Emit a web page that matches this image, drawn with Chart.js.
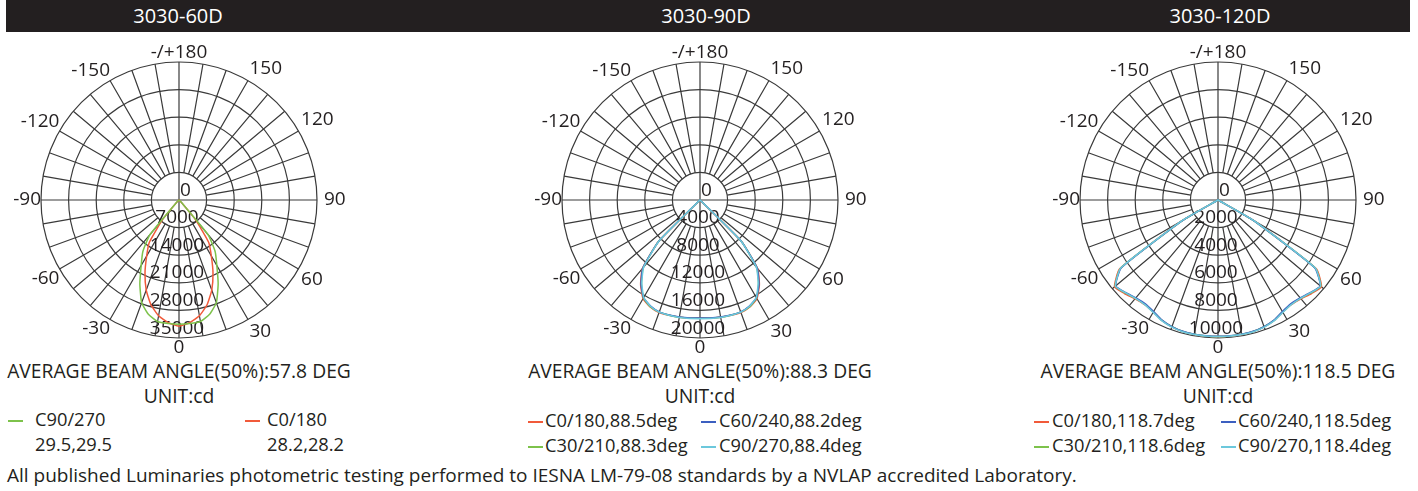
<!DOCTYPE html>
<html>
<head>
<meta charset="utf-8">
<script src="https://cdn.jsdelivr.net/npm/chart.js@4.4.0/dist/chart.umd.min.js"></script>
<style>
  body { margin: 0; width: 1418px; height: 491px; background: #fff; position: relative; overflow: hidden;
         font-family: 'Open Sans', sans-serif; color: #231f20; }
  #bar { position: absolute; left: 6px; top: 0; width: 1404px; height: 32px; background: #231f20; }
  .title { position: absolute; top: 0; line-height: 32px; color: #fff; font-size: 20px; transform: translateX(-50%); white-space: nowrap; }
  .polar { position: absolute; top: 43px; }
  .center { position: absolute; transform: translateX(-50%); white-space: nowrap; font-size: 19.3px; line-height: 24px; }
  .item { position: absolute; white-space: nowrap; font-size: 18.3px; line-height: 24px; }
  .dash { position: absolute; height: 2px; width: 15px; }
  #footer { position: absolute; left: 7px; top: 463px; font-size: 19px; line-height: 24px; white-space: nowrap; }
</style>
</head>
<body>
<div id="bar"></div>
<div id="footer">All published Luminaries photometric testing performed to IESNA LM-79-08 standards by a NVLAP accredited Laboratory.</div>

<script>
'use strict';

// angle categories, clockwise from the top of the diagram
let angleLabels = [180, 175, 170, 165, 160, 155, 150, 145, 140, 135, 130, 125, 120, 115, 110, 105, 100, 95,
  90, 85, 80, 75, 70, 65, 60, 55, 50, 45, 40, 35, 30, 25, 20, 15, 10, 5,
  0, -5, -10, -15, -20, -25, -30, -35, -40, -45, -50, -55, -60, -65, -70, -75, -80, -85,
  -90, -95, -100, -105, -110, -115, -120, -125, -130, -135, -140, -145, -150, -155, -160, -165, -170, -175];
let angleTickLabels = ['-/+180', '150', '120', '90', '60', '30', '0', '-30', '-60', '-90', '-120', '-150'];

// gamma angles the intensities are read at (curves meet the centre beyond these)
let gammaAngles = [0, 5, 10, 15, 20, 25, 30, 35, 40, 45, 50, 55, 60, 65, 70, 75, 80, 85, 90];

// 3030-60D (cd)
let c90_60D = [31500, 31450, 31300, 30000, 27700, 23500, 19200, 16000, 11500, 1000, 0, 0, 0, 0, 0, 0, 0, 0, 0];
let c0_60D = [32000, 31200, 29800, 27500, 24300, 20400, 16400, 13100, 6500, 800, 0, 0, 0, 0, 0, 0, 0, 0, 0];

// 3030-90D (cd)
let c0_90D = [17150, 17200, 17250, 17300, 17350, 17100, 16500, 15000, 13000, 8500, 0, 0, 0, 0, 0, 0, 0, 0, 0];
let c30_90D = [17150, 17200, 17250, 17280, 17300, 17050, 16400, 14800, 12800, 8450, 0, 0, 0, 0, 0, 0, 0, 0, 0];
let c60_90D = [17100, 17150, 17200, 17250, 17250, 16950, 16350, 14900, 12900, 8450, 0, 0, 0, 0, 0, 0, 0, 0, 0];
let c90_90D = [17200, 17250, 17300, 17300, 17300, 17000, 16300, 14700, 12700, 8400, 0, 0, 0, 0, 0, 0, 0, 0, 0];

// 3030-120D (cd)
let c0_120D = [9900, 9900, 9890, 9870, 9780, 9630, 9380, 9260, 9350, 9580, 9780, 8700, 3000, 0, 0, 0, 0, 0, 0];
let c30_120D = [9890, 9890, 9880, 9860, 9770, 9620, 9360, 9230, 9300, 9520, 9720, 8620, 2980, 0, 0, 0, 0, 0, 0];
let c60_120D = [9880, 9880, 9870, 9850, 9760, 9600, 9330, 9180, 9250, 9480, 9680, 8550, 2950, 0, 0, 0, 0, 0, 0];
let c90_120D = [9900, 9900, 9900, 9880, 9800, 9650, 9400, 9250, 9300, 9500, 9700, 8600, 3000, 0, 0, 0, 0, 0, 0];

let panelNames = ['3030-60D', '3030-90D', '3030-120D'];
let beamAngles = ['57.8', '88.3', '118.5'];
let radialMax = [35000, 20000, 10000];
let radialStep = [7000, 4000, 2000];

let names60D = ['C90/270', 'C0/180'];
let angles60D = ['29.5,29.5', '28.2,28.2'];
let names90D = ['C0/180', 'C60/240', 'C30/210', 'C90/270'];
let angles90D = ['88.5deg', '88.2deg', '88.3deg', '88.4deg'];
let angles120D = ['118.7deg', '118.5deg', '118.6deg', '118.4deg'];

let red = '#f15a3a';
let green = '#7dc24b';
let blue = '#3c5fc0';
let cyan = '#6cc8dc';
let gridColor = '#3a3a3a';
let textColor = '#231f20';

// layout
let panelX = [179, 700, 1218];
let titleX = [178, 706, 1220];

function toRadar(profile) {
  return angleLabels.map(function (g) {
    let k = gammaAngles.indexOf(Math.abs(g));
    return k >= 0 ? profile[k] : 0;
  });
}

function line(profile, color) {
  return {
    data: toRadar(profile),
    borderColor: color,
    borderWidth: 1.5,
    borderJoinStyle: 'round',
    pointRadius: 0,
    fill: false,
    tension: 0.15
  };
}

let tickLabels = {
  id: 'tickLabels',
  beforeDatasetsDraw(chart) {
    let scale = chart.scales.r;
    let ctx = chart.ctx;
    ctx.save();
    ctx.font = '19px "Open Sans"';
    ctx.fillStyle = textColor;
    ctx.textBaseline = 'alphabetic';
    scale.ticks.forEach(function (t) {
      let d = scale.getDistanceFromCenterForValue(t.value);
      if (t.value === 0) {
        ctx.textAlign = 'left';
        ctx.fillText(t.label, scale.xCenter + 1, scale.yCenter - 4.5);
      } else {
        ctx.textAlign = 'center';
        ctx.fillText(t.label, scale.xCenter - 2, scale.yCenter + d - 4.5);
      }
    });
    ctx.restore();
  }
};

function makePanel(p, datasets) {
  let canvas = document.createElement('canvas');
  canvas.width = 380;
  canvas.height = 314;
  canvas.className = 'polar';
  canvas.style.left = (panelX[p] - 190) + 'px';
  document.body.appendChild(canvas);

  new Chart(canvas, {
    type: 'radar',
    data: { labels: angleLabels, datasets: datasets },
    options: {
      responsive: false,
      animation: false,
      devicePixelRatio: 1,
      plugins: { legend: { display: false }, tooltip: { enabled: false } },
      scales: {
        r: {
          min: 0,
          max: radialMax[p],
          ticks: { display: false, stepSize: radialStep[p], callback: function (v) { return String(v); } },
          grid: { circular: true, color: gridColor, lineWidth: 1.2 },
          angleLines: {
            color: gridColor,
            lineWidth: function (c) { return c.index % 2 === 0 ? 1.2 : 0; },
            borderDash: function (c) {
              if (c.index % 18 === 0) return [];
              let r1 = c.chart.scales.r.getDistanceFromCenterForValue(radialStep[p]);
              return [0, r1, 1000, 0];
            }
          },
          pointLabels: {
            callback: function (label, i) { return i % 6 === 0 ? angleTickLabels[i / 6] : ''; },
            font: { family: 'Open Sans', size: 19, lineHeight: 1 },
            color: textColor,
            padding: function (c) {
              let i = c.index;
              if (i % 6 !== 0 || i === 0 || i === 36) return 0;
              if (i === 18) return 7;
              return i < 36 ? 3 : 0;
            }
          }
        }
      }
    },
    plugins: [tickLabels]
  });

  let title = document.createElement('div');
  title.className = 'title';
  title.style.left = titleX[p] + 'px';
  title.textContent = panelNames[p];
  document.body.appendChild(title);

  let beam = document.createElement('div');
  beam.className = 'center';
  beam.style.left = panelX[p] + 'px';
  beam.style.top = '359px';
  beam.textContent = 'AVERAGE BEAM ANGLE(50%):' + beamAngles[p] + ' DEG';
  document.body.appendChild(beam);

  let unit = document.createElement('div');
  unit.className = 'center';
  unit.style.left = panelX[p] + 'px';
  unit.style.top = '384px';
  unit.textContent = 'UNIT:cd';
  document.body.appendChild(unit);
}

function legendItem(dashX, textX, y, color, text) {
  if (color) {
    let dash = document.createElement('div');
    dash.className = 'dash';
    dash.style.left = dashX + 'px';
    dash.style.top = (y + 1) + 'px';
    dash.style.background = color;
    document.body.appendChild(dash);
  }
  let label = document.createElement('div');
  label.className = 'item';
  label.style.left = textX + 'px';
  label.style.top = (y - 12) + 'px';
  label.textContent = text;
  document.body.appendChild(label);
}

// dataset 0 is drawn on top
makePanel(0, [line(c90_60D, green), line(c0_60D, red)]);
makePanel(1, [line(c90_90D, cyan), line(c60_90D, blue), line(c30_90D, green), line(c0_90D, red)]);
makePanel(2, [line(c90_120D, cyan), line(c60_120D, blue), line(c30_120D, green), line(c0_120D, red)]);

// legends
legendItem(8, 35, 419, green, names60D[0]);
legendItem(245, 267, 419, red, names60D[1]);
legendItem(0, 35, 444, null, angles60D[0]);
legendItem(0, 267, 444, null, angles60D[1]);

let colors4 = [red, blue, green, cyan];
let col90 = [[528, 545], [701, 719]];
let col120 = [[1034, 1052], [1221, 1238]];
for (let i = 0; i < 4; i++) {
  let row = Math.floor(i / 2);
  let col = i % 2;
  let y = row === 0 ? 420 : 445;
  legendItem(col90[col][0], col90[col][1], y, colors4[i], names90D[i] + ',' + angles90D[i]);
  legendItem(col120[col][0], col120[col][1], y, colors4[i], names90D[i] + ',' + angles120D[i]);
}
</script>
</body>
</html>
